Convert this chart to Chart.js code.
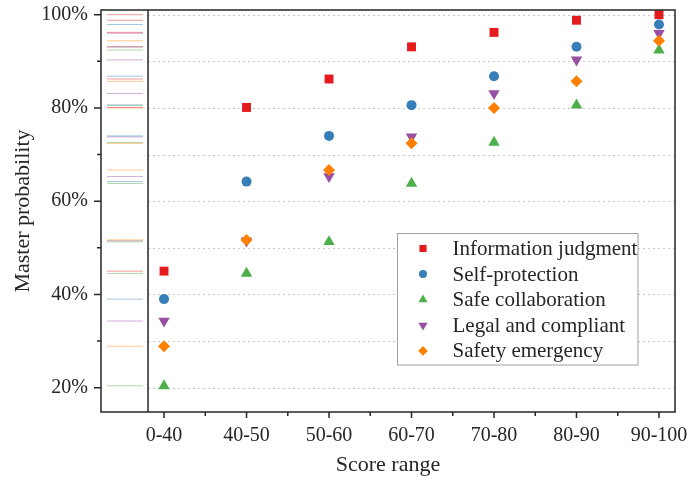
<!DOCTYPE html>
<html>
<head>
<meta charset="utf-8">
<script src="https://cdn.jsdelivr.net/npm/chart.js@4.4.1/dist/chart.umd.min.js"></script>
<style>
  html, body { margin: 0; padding: 0; background: #fff; }
</style>
</head>
<body>
<canvas id="graphCanvas" width="689" height="477"></canvas>
<script>
// values (percent)
const scoreRanges = ['0-40', '40-50', '50-60', '60-70', '70-80', '80-90', '90-100'];
const infoJudgment = [45.0, 80.1, 86.2, 93.1, 96.2, 98.8, 100.0];
const selfProtection = [39.0, 64.2, 74.0, 80.6, 86.8, 93.1, 97.9];
const safeCollaboration = [20.4, 44.5, 51.3, 63.8, 72.6, 80.6, 92.4];
const legalCompliant = [34.3, 51.5, 65.3, 73.8, 83.1, 90.3, 96.0];
const safetyEmergency = [28.9, 51.7, 66.7, 72.4, 80.0, 85.7, 94.4];
const yTickLabels = [20, 40, 60, 80, 100];
const yMinorTicks = [30, 50, 70, 90];

const FONT = '"Liberation Serif", "Times New Roman", serif';
const INK = '#262626';
const RUG_X = -0.473;     // centre of the marginal strip
const DIVIDER_X = -0.194; // line between strip and points

const series = [
    { label: 'Information judgment', values: infoJudgment, color: [228, 26, 28], style: 'rect', rotation: 0, radius: 6.3 },
    { label: 'Self-protection', values: selfProtection, color: [55, 126, 184], style: 'circle', rotation: 0, radius: 5.0 },
    { label: 'Safe collaboration', values: safeCollaboration, color: [77, 175, 74], style: 'triangle', rotation: 0, radius: 6.6 },
    { label: 'Legal and compliant', values: legalCompliant, color: [152, 78, 163], style: 'triangle', rotation: 180, radius: 6.6 },
    { label: 'Safety emergency', values: safetyEmergency, color: [255, 127, 0], style: 'rectRot', rotation: 0, radius: 6.0 },
];

const rgb = (c, a) => `rgba(${c[0]}, ${c[1]}, ${c[2]}, ${a})`;

const pointSets = series.map((s, k) => ({
    label: s.label,
    data: s.values.map((v, i) => ({ x: i, y: v })),
    pointStyle: s.style,
    rotation: s.rotation,
    radius: s.radius,
    hoverRadius: s.radius,
    backgroundColor: rgb(s.color, 1),
    borderWidth: 0,
    order: series.length - k,
}));

const rugSets = series.map((s) => ({
    label: s.label + ' (rug)',
    data: s.values.map((v) => ({ x: RUG_X, y: v })),
    pointStyle: 'line',
    radius: 18,
    hoverRadius: 18,
    borderColor: rgb(s.color, 0.45),
    borderWidth: 1,
    order: 10,
}));

const framePlugin = {
    id: 'frame',
    beforeDatasetsDraw(chart) {
        const { ctx, chartArea: a, scales: { x, y } } = chart;
        const left = x.getPixelForValue(DIVIDER_X);
        ctx.save();
        ctx.strokeStyle = '#c8c8c8';
        ctx.lineWidth = 1;
        ctx.setLineDash([2, 3]);
        yTickLabels.concat(yMinorTicks).forEach((v) => {
            const py = Math.round(y.getPixelForValue(v)) + 0.5;
            ctx.beginPath();
            ctx.moveTo(left, py);
            ctx.lineTo(a.right, py);
            ctx.stroke();
        });
        ctx.restore();
    },
    afterDatasetsDraw(chart) {
        const { ctx, chartArea: a, scales: { x, y } } = chart;
        ctx.save();
        ctx.strokeStyle = INK;
        ctx.lineWidth = 1.5;
        ctx.strokeRect(a.left, a.top, a.right - a.left, a.bottom - a.top);
        const dx = x.getPixelForValue(DIVIDER_X);
        ctx.beginPath();
        ctx.moveTo(dx, a.top);
        ctx.lineTo(dx, a.bottom);
        ctx.stroke();

        // tick marks
        ctx.beginPath();
        yTickLabels.forEach((v) => {
            const py = y.getPixelForValue(v);
            ctx.moveTo(a.left, py); ctx.lineTo(a.left - 7, py);
        });
        yMinorTicks.forEach((v) => {
            const py = y.getPixelForValue(v);
            ctx.moveTo(a.left, py); ctx.lineTo(a.left - 4, py);
        });
        scoreRanges.forEach((_, i) => {
            const px = x.getPixelForValue(i);
            ctx.moveTo(px, a.bottom); ctx.lineTo(px, a.bottom + 6);
            if (i < scoreRanges.length - 1) {
                const mx = x.getPixelForValue(i + 0.5);
                ctx.moveTo(mx, a.bottom); ctx.lineTo(mx, a.bottom + 4);
            }
        });
        ctx.stroke();

        // legend
        const bx = a.right - 277.5, by = a.bottom - 178.5, bw = 240.5, bh = 131.5;
        ctx.fillStyle = '#fff';
        ctx.fillRect(bx, by, bw, bh);
        ctx.strokeStyle = '#a0a0a0';
        ctx.lineWidth = 1;
        ctx.strokeRect(bx, by, bw, bh);
        ctx.font = '21px ' + FONT;
        ctx.textBaseline = 'middle';
        ctx.textAlign = 'left';
        series.forEach((s, k) => {
            const ry = by + 15 + k * 25.6;
            ctx.fillStyle = rgb(s.color, 1);
            Chart.helpers.drawPoint(ctx, {
                pointStyle: s.style, rotation: s.rotation, radius: s.radius * 0.8, borderWidth: 0,
            }, bx + 25.5, ry);
            ctx.fillStyle = INK;
            ctx.fillText(s.label, bx + 55, ry + 1);
        });
        ctx.restore();
    },
};

new Chart(document.getElementById('graphCanvas').getContext('2d'), {
    type: 'scatter',
    data: { datasets: pointSets.concat(rugSets) },
    options: {
        responsive: false,
        animation: false,
        layout: { autoPadding: false, padding: { top: 10, right: 14, left: 0, bottom: 0 } },
        plugins: { legend: { display: false }, tooltip: { enabled: false } },
        scales: {
            x: {
                type: 'linear',
                min: -0.764,
                max: 6.194,
                afterBuildTicks: (s) => { s.ticks = scoreRanges.map((_, i) => ({ value: i })); },
                afterFit: (s) => { s.height = 65; s.paddingLeft = 0; s.paddingRight = 0; },
                grid: { display: false, drawTicks: false },
                border: { display: false },
                ticks: {
                    callback: (v) => scoreRanges[v],
                    font: { family: FONT, size: 20 },
                    color: INK,
                    padding: 12,
                    maxRotation: 0,
                    autoSkip: false,
                },
                title: { display: true, text: 'Score range', font: { family: FONT, size: 22 }, color: INK, padding: { top: 0, bottom: -1 } },
            },
            y: {
                min: 14.79,
                max: 101.0,
                afterBuildTicks: (s) => { s.ticks = yTickLabels.map((v) => ({ value: v })); },
                afterFit: (s) => { s.width = 101; s.paddingTop = 0; s.paddingBottom = 0; },
                grid: { display: false, drawTicks: false },
                border: { display: false },
                ticks: {
                    callback: (v) => v + '%',
                    font: { family: FONT, size: 20 },
                    color: INK,
                    padding: 13,
                },
                title: { display: true, text: 'Master probability', font: { family: FONT, size: 22 }, color: INK, padding: { top: 10, bottom: 0 } },
            },
        },
    },
    plugins: [framePlugin],
});
</script>
</body>
</html>
